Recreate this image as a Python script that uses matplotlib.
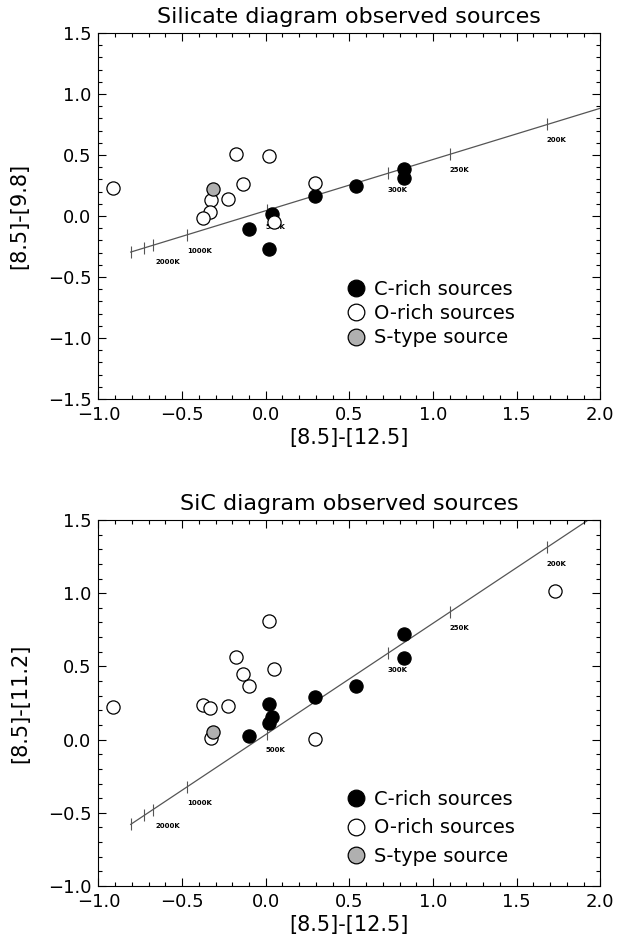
import numpy as np
import matplotlib
matplotlib.use("Agg")
import matplotlib.pyplot as plt
from matplotlib.lines import Line2D
from matplotlib.ticker import MultipleLocator

# cores [8.5]-[12.5] (comum aos dois paineis)
c_x = [0.038, -0.101, 0.021, 0.296, 0.539, 0.828, 0.828]
o_x = [-0.913, -0.179, 0.021, -0.134, -0.226, -0.327, -0.332, -0.372, 0.292, 0.052]
s_x = [-0.313]

# painel de cima: [8.5]-[9.8]
c_y_sil = [0.016, -0.104, -0.271, 0.167, 0.244, 0.389, 0.310]
o_y_sil = [0.230, 0.505, 0.488, 0.258, 0.140, 0.134, 0.033, -0.019, 0.271, -0.052]
s_y_sil = [0.217]

# painel de baixo: [8.5]-[11.2]
c_x_sic = [0.828, 0.828, 0.539, 0.296, 0.021, 0.038, 0.021, -0.101]
c_y_sic = [0.724, 0.558, 0.364, 0.292, 0.244, 0.153, 0.114, 0.025]
o_x_sic = [-0.913, -0.372, -0.332, -0.327, -0.226, -0.179, -0.134, -0.099, 0.021, 0.052, 0.292, 1.729]
o_y_sic = [0.221, 0.239, 0.214, 0.011, 0.230, 0.563, 0.446, 0.367, 0.811, 0.483, 0.005, 1.018]
s_x_sic = [-0.313]
s_y_sic = [0.052]

# curva do corpo negro (linha) e marcas de temperatura
linha_x = [-0.807, 2.0]
linha_y_sil = [-0.296, 0.883]
linha_y_sic = [-0.579, 1.555]
marca_x = [-0.807, -0.727, -0.675, -0.473, 0.005, 0.732, 1.101, 1.682]
marca_y_sil = [-0.296, -0.262, -0.240, -0.155, 0.046, 0.351, 0.506, 0.750]
marca_y_sic = [-0.579, -0.518, -0.479, -0.325, 0.038, 0.591, 0.872, 1.313]
temp_nomes = ["2000K", "1000K", "500K", "300K", "250K", "200K"]
temp_x = [-0.66, -0.47, 0.0, 0.73, 1.10, 1.68]
temp_y_sil = [-0.378, -0.29, -0.09, 0.21, 0.38, 0.62]
temp_y_sic = [-0.588, -0.433, -0.073, 0.478, 0.761, 1.20]

legenda = ["C-rich sources", "O-rich sources", "S-type source"]
cinza = "#b0b0b0"

fig = plt.figure(figsize=(6.17, 9.47), dpi=100)
ax1 = fig.add_axes([0.1595, 0.5787, 0.8135, 0.3865])
ax2 = fig.add_axes([0.1595, 0.0644, 0.8135, 0.3865])


def fmt(v, p):
    # sinal de menos comprido, como no original
    if abs(v) < 1e-9:
        v = 0.0
    return ("%.1f" % v).replace("-", "\u2212")


def painel(ax, titulo, ylab, cx, cy, ox, oy, sx, sy, ly, my, ty, ylim, espaco):
    ax.plot(linha_x, ly, color="#555555", lw=0.9, zorder=1)
    ax.plot(marca_x, my, ls="none", marker="|", ms=8, mew=0.8, color="#555555", zorder=1)
    for nome, x, y in zip(temp_nomes, temp_x, ty):
        ax.text(x, y, nome, fontsize=5, fontweight="bold", ha="left", va="center")
    ax.plot(cx, cy, ls="none", marker="o", ms=9.5, mfc="black", mec="black", mew=0.9, zorder=3)
    ax.plot(ox, oy, ls="none", marker="o", ms=9.5, mfc="white", mec="black", mew=0.9, zorder=3)
    ax.plot(sx, sy, ls="none", marker="o", ms=9.5, mfc=cinza, mec="black", mew=0.9, zorder=3)

    h = [Line2D([], [], ls="none", marker="o", ms=12, mfc=f, mec="black", mew=0.9)
         for f in ["black", "white", cinza]]
    ax.legend(h, legenda, loc="upper left", bbox_to_anchor=(0.475, espaco[0]),
              frameon=False, fontsize=14, handletextpad=0.4, labelspacing=espaco[1],
              borderpad=0, handlelength=1.0)

    ax.set_xlim(-1.0, 2.0)
    ax.set_ylim(*ylim)
    ax.xaxis.set_major_locator(MultipleLocator(0.5))
    ax.xaxis.set_minor_locator(MultipleLocator(0.1))
    ax.yaxis.set_major_locator(MultipleLocator(0.5))
    ax.yaxis.set_minor_locator(MultipleLocator(0.1))
    ax.xaxis.set_major_formatter(fmt)
    ax.yaxis.set_major_formatter(fmt)
    ax.tick_params(which="both", direction="in", top=True, right=True, labelsize=13, pad=5)
    ax.tick_params(which="major", length=6, width=0.8)
    ax.tick_params(which="minor", length=3, width=0.8)
    ax.set_title(titulo, fontsize=16, pad=7)
    ax.set_xlabel("[8.5]-[12.5]", fontsize=15, labelpad=3)
    ax.set_ylabel(ylab, fontsize=15, labelpad=13)


painel(ax1, "Silicate diagram observed sources", "[8.5]-[9.8]",
       c_x, c_y_sil, o_x, o_y_sil, s_x, s_y_sil,
       linha_y_sil, marca_y_sil, temp_y_sil, (-1.5, 1.5), (0.352, 0.27))
painel(ax2, "SiC diagram observed sources", "[8.5]-[11.2]",
       c_x_sic, c_y_sic, o_x_sic, o_y_sic, s_x_sic, s_y_sic,
       linha_y_sic, marca_y_sic, temp_y_sic, (-1.0, 1.5), (0.29, 0.5))

fig.savefig("out.png", dpi=100)
